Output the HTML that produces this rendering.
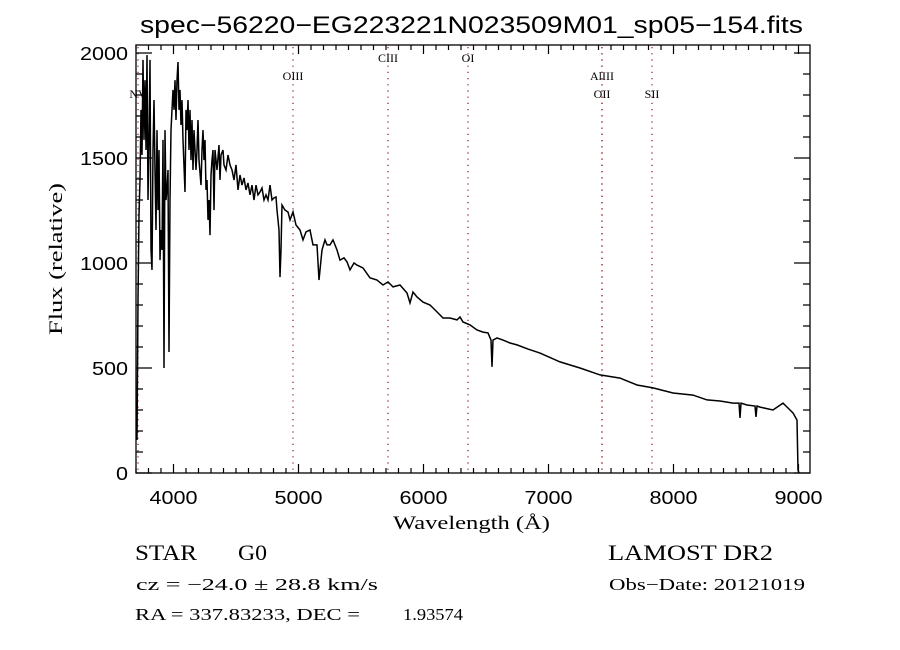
<!DOCTYPE html>
<html><head><meta charset="utf-8">
<style>
html,body{margin:0;padding:0;background:#fff;width:900px;height:650px;overflow:hidden}
svg{display:block}
.sans{font-family:"Liberation Sans",sans-serif}
.serif{font-family:"Liberation Serif",serif}
</style></head>
<body>
<svg id="chart" width="900" height="650" viewBox="0 0 900 650">
<rect x="0" y="0" width="900" height="650" fill="#fff"/>
<text x="140" y="33" textLength="663" lengthAdjust="spacingAndGlyphs" class="sans" font-size="24" fill="#000">spec−56220−EG223221N023509M01_sp05−154.fits</text>
<g id="lines-g"></g>
<g id="spec-g"></g>
<g id="axes-g"></g>
<text x="393" y="529" textLength="157" lengthAdjust="spacingAndGlyphs" class="serif" font-size="19">Wavelength (Å)</text>
<text transform="translate(62,335) rotate(-90)" textLength="152" lengthAdjust="spacingAndGlyphs" class="serif" font-size="19">Flux (relative)</text>
<text x="135" y="560" textLength="62" lengthAdjust="spacingAndGlyphs" class="serif" font-size="22">STAR</text>
<text x="238" y="560" textLength="29" lengthAdjust="spacingAndGlyphs" class="serif" font-size="22">G0</text>
<text x="608" y="560" textLength="165" lengthAdjust="spacingAndGlyphs" class="serif" font-size="22">LAMOST DR2</text>
<text x="136" y="590" textLength="242" lengthAdjust="spacingAndGlyphs" class="serif" font-size="17">cz = −24.0 ± 28.8 km/s</text>
<text x="609" y="590" textLength="196" lengthAdjust="spacingAndGlyphs" class="serif" font-size="17">Obs−Date: 20121019</text>
<text x="135" y="620" textLength="225" lengthAdjust="spacingAndGlyphs" class="serif" font-size="17">RA = 337.83233, DEC =</text>
<text x="403" y="620" textLength="60" lengthAdjust="spacingAndGlyphs" class="serif" font-size="17">1.93574</text>
</svg>
<script>
const wavelengths=[3708,3716,3724,3732,3740,3748,3756,3764,3772,3780,3788,3796,3804,3812,3820,3828,3836,3844,3852,3860,3868,3876,3884,3892,3900,3908,3916,3924,3932,3940,3948,3956,3964,3972,3980,3988,3996,4004,4012,4020,4028,4036,4044,4052,4060,4068,4076,4092,4100,4108,4116,4124,4132,4140,4148,4156,4164,4172,4180,4188,4196,4204,4220,4228,4236,4244,4252,4260,4268,4276,4284,4292,4300,4308,4316,4324,4332,4348,4364,4372,4380,4396,4404,4420,4436,4452,4468,4484,4500,4516,4532,4548,4564,4580,4596,4612,4628,4644,4660,4676,4692,4708,4724,4740,4756,4772,4788,4804,4820,4828,4844,4852,4860,4868,4892,4916,4932,4956,4980,5012,5036,5060,5092,5116,5148,5164,5188,5212,5228,5252,5276,5308,5332,5364,5388,5412,5444,5468,5516,5572,5628,5676,5716,5756,5812,5868,5892,5916,5948,5996,6052,6108,6156,6212,6268,6292,6316,6372,6428,6476,6516,6540,6548,6556,6588,6636,6692,6748,6836,6932,7092,7252,7412,7572,7708,7836,7996,8156,8268,8372,8476,8524,8532,8540,8588,8652,8660,8668,8692,8796,8876,8932,8956,8988,8996,9004];
const fluxes=[157,824,1229,1395,1729,1514,1967,1586,1871,1538,1990,1300,1586,1967,1062,967,1538,1776,1443,1157,1633,1252,1538,1014,1157,1062,1586,500,1633,1300,1348,1443,576,1300,1633,1729,1824,1729,1871,1681,1871,1957,1729,1824,1657,1776,1586,1338,1729,1633,1776,1538,1729,1490,1681,1443,1633,1538,1443,1538,1681,1490,1371,1538,1633,1490,1586,1348,1395,1205,1300,1133,1419,1490,1538,1252,1538,1443,1562,1395,1514,1538,1467,1443,1514,1467,1443,1395,1467,1348,1419,1371,1405,1348,1381,1324,1371,1300,1371,1324,1338,1357,1300,1324,1300,1371,1300,1310,1314,1252,1157,933,1062,1276,1252,1243,1205,1243,1181,1157,1110,1148,1157,1086,1086,919,1062,1110,1086,1086,1110,1062,1014,1024,1005,967,1000,990,976,929,919,895,910,886,895,857,810,862,838,814,800,767,738,738,729,743,719,705,681,671,667,633,505,633,643,633,619,610,590,571,529,500,467,452,419,405,381,371,348,343,333,333,262,333,324,319,267,319,314,300,333,300,286,252,14,0];
const xTicks=[4000,5000,6000,7000,8000,9000];
const yTicks=[0,500,1000,1500,2000];
const lineNames=["NV","OIII","CIII","OI","AlIII","OII","SII"];
const lineWaves=[3716,4956,5716,6356,7428,7428,7828];
const lineRows=[2,1,0,0,1,2,2];

const L=136,R=810,T=45,B=473,X0=3700,X1=9092,Y0=0,Y1=2038;
const sx=w=>L+(w-X0)/(X1-X0)*(R-L);
const sy=f=>B-(f-Y0)/(Y1-Y0)*(B-T);
const NS="http://www.w3.org/2000/svg";
function mk(tag,attrs,parent){const e=document.createElementNS(NS,tag);for(const k in attrs)e.setAttribute(k,attrs[k]);parent.appendChild(e);return e;}

const svg=document.getElementById('chart');
const defs=mk('defs',{},svg);
const cp=mk('clipPath',{id:'plotclip'},defs);
mk('rect',{x:L,y:T,width:R-L,height:B-T},cp);

const lg=document.getElementById('lines-g');
for(let i=0;i<lineNames.length;i++){
  const x=sx(lineWaves[i]);
  const ln=mk('line',{x1:x,x2:x,y1:T+2,y2:B,stroke:'#8b1a1a','stroke-width':1.2,'stroke-dasharray':'1.2 5'},lg);
  
  
  const t=mk('text',{x:x,y:62+lineRows[i]*18,'text-anchor':'middle','font-size':12,'font-family':'"Liberation Serif",serif'},lg);
  t.textContent=lineNames[i];
  
  
}

const sg=document.getElementById('spec-g');
let d='';
for(let i=0;i<wavelengths.length;i++){d+=(i?'L':'M')+sx(wavelengths[i]).toFixed(1)+','+sy(fluxes[i]).toFixed(1);}
const p=mk('path',{d:d,fill:'none',stroke:'#000','stroke-width':1.5,'stroke-linejoin':'miter','clip-path':'url(#plotclip)'},sg);



const ag=document.getElementById('axes-g');
const fr=mk('rect',{x:L,y:T,width:R-L,height:B-T,fill:'none',stroke:'#000','stroke-width':1.3},ag);


let td='';
for(let w=3700;w<=X1;w+=100){const x=sx(w);const maj=(w%1000===0);const len=maj?9:5;td+=`M${x},${B}v${-len}M${x},${T}v${len}`;}
for(let f=0;f<=Y1;f+=100){const y=sy(f);const maj=(f%500===0);const len=maj?16:7;td+=`M${L},${y}h${len}M${R},${y}h${-len}`;}
const tk=mk('path',{d:td,stroke:'#000','stroke-width':1.2,fill:'none'},ag);


for(const w of xTicks){
  const t=mk('text',{x:sx(w)-24,y:504,textLength:48,lengthAdjust:'spacingAndGlyphs','font-size':18,'font-family':'"Liberation Sans",sans-serif'},ag);
  t.textContent=String(w);
  
  
}
for(const f of yTicks){
  const s=String(f);
  const w=12*s.length;
  const t=mk('text',{x:128-w,y:sy(f)+7,textLength:w,lengthAdjust:'spacingAndGlyphs','font-size':18,'font-family':'"Liberation Sans",sans-serif'},ag);
  t.textContent=s;
  
  
}
</script>
</body></html>
